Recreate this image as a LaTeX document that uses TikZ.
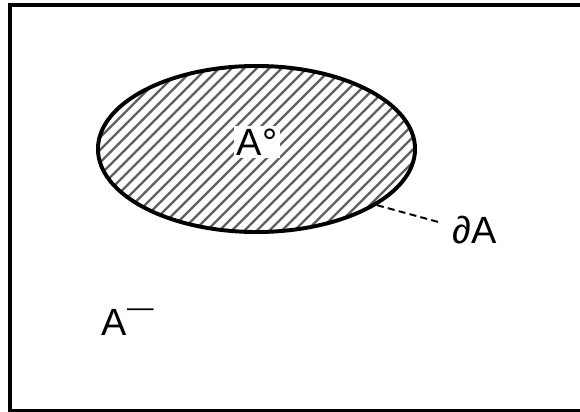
\documentclass[tikz,border=0pt]{standalone}
\usepackage{fontspec}
\setmainfont{Liberation Sans}
\usetikzlibrary{shapes.geometric}

\begin{document}
\begin{tikzpicture}[x=0.025cm, y=-0.025cm,
    lbl/.style={font=\fontsize{27}{30}\selectfont}]
  \useasboundingbox (0,0) rectangle (580,412);
  % outer frame
  \draw[line width=2.2pt] (10,5) rectangle (584,411);
  % the set A: hatched interior
  \coordinate (O) at (256.5,149);
  \begin{scope}
    \clip (O) ellipse (158.5 and 83);
    \foreach \c in {-100,-87.5,...,440}
      \draw[gray!75!black, line width=1.6pt] (\c,250) -- ++(220,-220);
  \end{scope}
  \node[ellipse, draw, line width=2.8pt, minimum width=7.925cm, minimum height=4.15cm,
        inner sep=0pt] (ell) at (O) {};

  \node[lbl, fill=white, inner sep=2pt] (int) at (257,142) {A°};
  \node[lbl] (bd) at (475,230) {∂A};
  \node[lbl] (cl) at (128,322) {A\textsuperscript{\raisebox{0.45ex}{—}}};

  \coordinate (tip) at (442,223);
  \draw[line width=1.4pt, dash pattern=on 5pt off 3pt] (ell.-25) -- (tip);
\end{tikzpicture}
\end{document}
